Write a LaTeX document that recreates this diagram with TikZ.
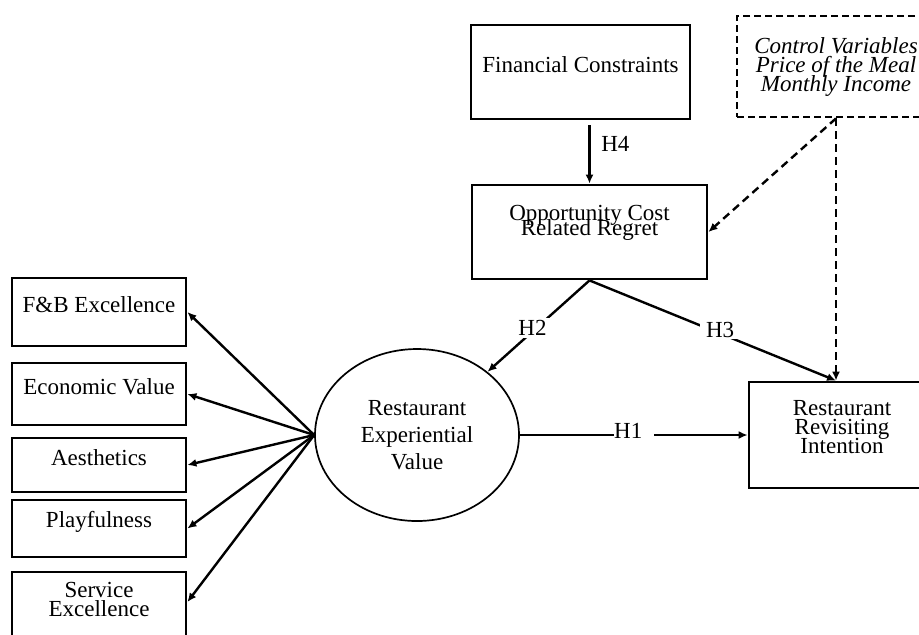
\documentclass[tikz,border=0pt]{standalone}
\usepackage{fontspec}
\setmainfont{Liberation Serif}
\usepackage{tikz}
\usetikzlibrary{arrows.meta}
\usetikzlibrary{shapes.geometric}
\usetikzlibrary{positioning}

\newcommand{\diagfont}{\fontsize{11.5}{9.5}\selectfont\lineskiplimit=-20pt}
\newcommand{\tightfont}{\fontsize{11.5}{7.7}\selectfont\lineskiplimit=-20pt}
\newcommand{\ovalfont}{\fontsize{11.5}{13.5}\selectfont}

\begin{document}
\begin{tikzpicture}[x=0.5pt, y=-0.5pt,
        font=\diagfont,
        box/.style={draw, line width=1.4pt, rectangle, inner sep=0pt, align=center},
        boxtext/.style={box, label={[yshift=3.5pt, align=center, font=\diagfont]center:#1}},
        leftbox/.style={boxtext=#1, minimum width=87pt},
        link/.style={-{Latex[length=4.5pt,width=4pt]}, line width=1.2pt},
        ctrllink/.style={link, dash pattern=on 4pt off 2.5pt},
        hyp/.style={fill=white, inner xsep=3pt, inner ysep=1pt}]
        \useasboundingbox (0,0) rectangle (919,634);

        \node[boxtext=Financial Constraints, minimum width=109.5pt, minimum height=47pt] (fin) at (580.5,72) {};
        \node[box, minimum width=117.5pt, minimum height=47pt,
              label={[yshift=4.5pt, align=center, font=\tightfont]center:Opportunity Cost\\Related Regret}]
              (opp) at (589.5,232) {};
        \node[box, dash pattern=on 3.5pt off 2pt, minimum width=99pt, minimum height=50.5pt,
              font=\diagfont\itshape] (ctrl) at (836,66.5) {Control Variables\\Price of the Meal\\Monthly Income};
        \node[draw, ellipse, line width=0.85pt, inner sep=0pt, minimum width=102pt, minimum height=86pt,
              align=center, font=\ovalfont] (ev) at (417,435) {Restaurant\\Experiential\\Value};
        \node[box, minimum width=93pt, minimum height=53pt,
              label={[yshift=4pt, align=center, font=\diagfont]center:Restaurant\\Revisiting\\Intention}] (rev) at (842,435) {};

        \foreach \name/\txt/\yc/\boxh in {fb/F\&B Excellence/312/34, econ/Economic Value/394/31,
                aes/Aesthetics/465/27, play/Playfulness/528.5/28.5, svc/Service\\Excellence/606/34} {
            \node[leftbox=\txt, minimum height=\boxh pt] (\name) at (99,\yc) {};
        }
        \foreach \name in {fb,econ,aes,play} {
            \draw[link] (ev.west) -- (\name.east);
        }
        \draw[link] (ev.west) -- ([yshift=2pt]svc.east);

        \draw[link, shorten <=2.5pt] (fin.south -| opp.north) -- node[pos=0.38, right=2pt] {H4} (opp.north);
        \draw[link] (ev.east) -- node[hyp, pos=0.409, anchor=west, inner xsep=0pt, text width=20pt, align=left, yshift=2pt] {H1} (rev.west);
        \draw[link] (opp.south) -- node[hyp, pos=0.52, xshift=-2pt] {H2} (ev);
        \draw[link] (opp.south) -- node[hyp, pos=0.53, yshift=2pt] {H3} (ctrl.south |- rev.north);

        \draw[ctrllink] (ctrl.south) -- (opp.east);
        \draw[ctrllink] (ctrl.south) -- (ctrl.south |- rev.north);
    \end{tikzpicture}
\end{document}
